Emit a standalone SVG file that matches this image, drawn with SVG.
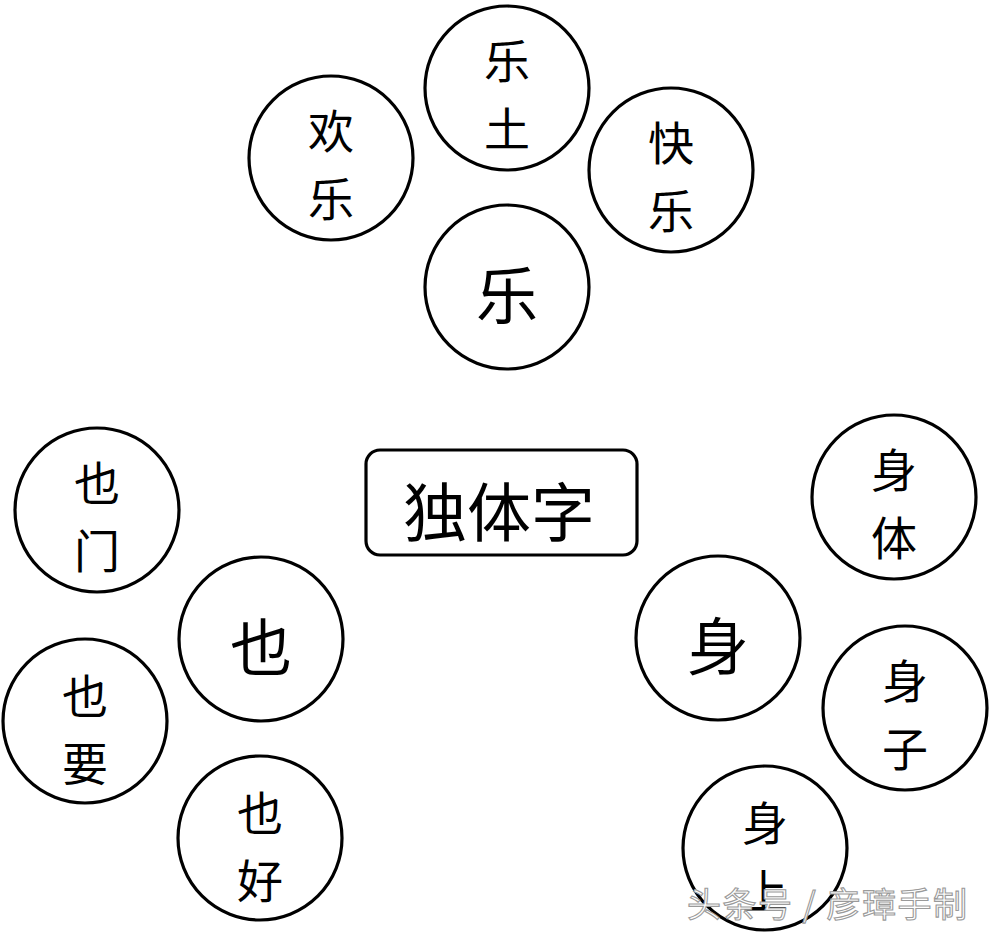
<svg xmlns="http://www.w3.org/2000/svg" width="990" height="935" viewBox="0 0 990 935">
<style>
.c{fill:#fff;stroke:#000;stroke-width:3.2}
.t{font-family:"Noto Sans CJK SC","Noto Sans CJK TC",sans-serif;fill:#000;text-anchor:middle;dominant-baseline:central}
.s{font-size:46px}
.b{font-size:62px}
.wm{font-family:"Noto Sans CJK SC",sans-serif;font-size:34px;fill:#fff;stroke:#9a9a9a;stroke-width:1.1}
</style>
<rect width="990" height="935" fill="#fff"/>
<g id="connectors"></g>
<g id="n-letu"><circle class="c" cx="507" cy="88" r="82"/><text class="t s" x="507" y="58">乐</text><text class="t s" x="507" y="126">土</text></g>
<g id="n-huanle"><circle class="c" cx="331" cy="158" r="82"/><text class="t s" x="331" y="128">欢</text><text class="t s" x="331" y="196">乐</text></g>
<g id="n-kuaile"><circle class="c" cx="671" cy="170" r="82"/><text class="t s" x="671" y="140">快</text><text class="t s" x="671" y="208">乐</text></g>
<g id="n-le"><circle class="c" cx="507" cy="287" r="82"/><text class="t b" x="507" y="292">乐</text></g>
<g id="n-duti"><rect x="366" y="450" width="271" height="105" rx="14" fill="#fff" stroke="#000" stroke-width="3.2"/><text class="t" style="font-size:64px" x="499" y="508">独体字</text></g>
<g id="n-yemen"><circle class="c" cx="97" cy="510" r="82"/><text class="t s" x="97" y="480">也</text><text class="t s" x="97" y="548">门</text></g>
<g id="n-ye"><circle class="c" cx="261" cy="639" r="82"/><text class="t b" x="261" y="644">也</text></g>
<g id="n-yeyao"><circle class="c" cx="85" cy="721" r="82"/><text class="t s" x="85" y="693">也</text><text class="t s" x="85" y="761">要</text></g>
<g id="n-yehao"><circle class="c" cx="260" cy="838" r="82"/><text class="t s" x="260" y="810">也</text><text class="t s" x="260" y="878">好</text></g>
<g id="n-shenti"><circle class="c" cx="894" cy="497" r="82"/><text class="t s" x="894" y="467">身</text><text class="t s" x="894" y="535">体</text></g>
<g id="n-shen"><circle class="c" cx="718" cy="638" r="82"/><text class="t b" x="718" y="643">身</text></g>
<g id="n-shenzi"><circle class="c" cx="905" cy="708" r="82"/><text class="t s" x="905" y="678">身</text><text class="t s" x="905" y="746">子</text></g>
<g id="n-shenshang"><circle class="c" cx="765" cy="848" r="82"/><text class="t s" x="765" y="820">身</text><text class="t s" x="765" y="888">上</text></g>
<text class="wm" x="687" y="917" textLength="280" lengthAdjust="spacing">头条号 / 彦璋手制</text>
</svg>
